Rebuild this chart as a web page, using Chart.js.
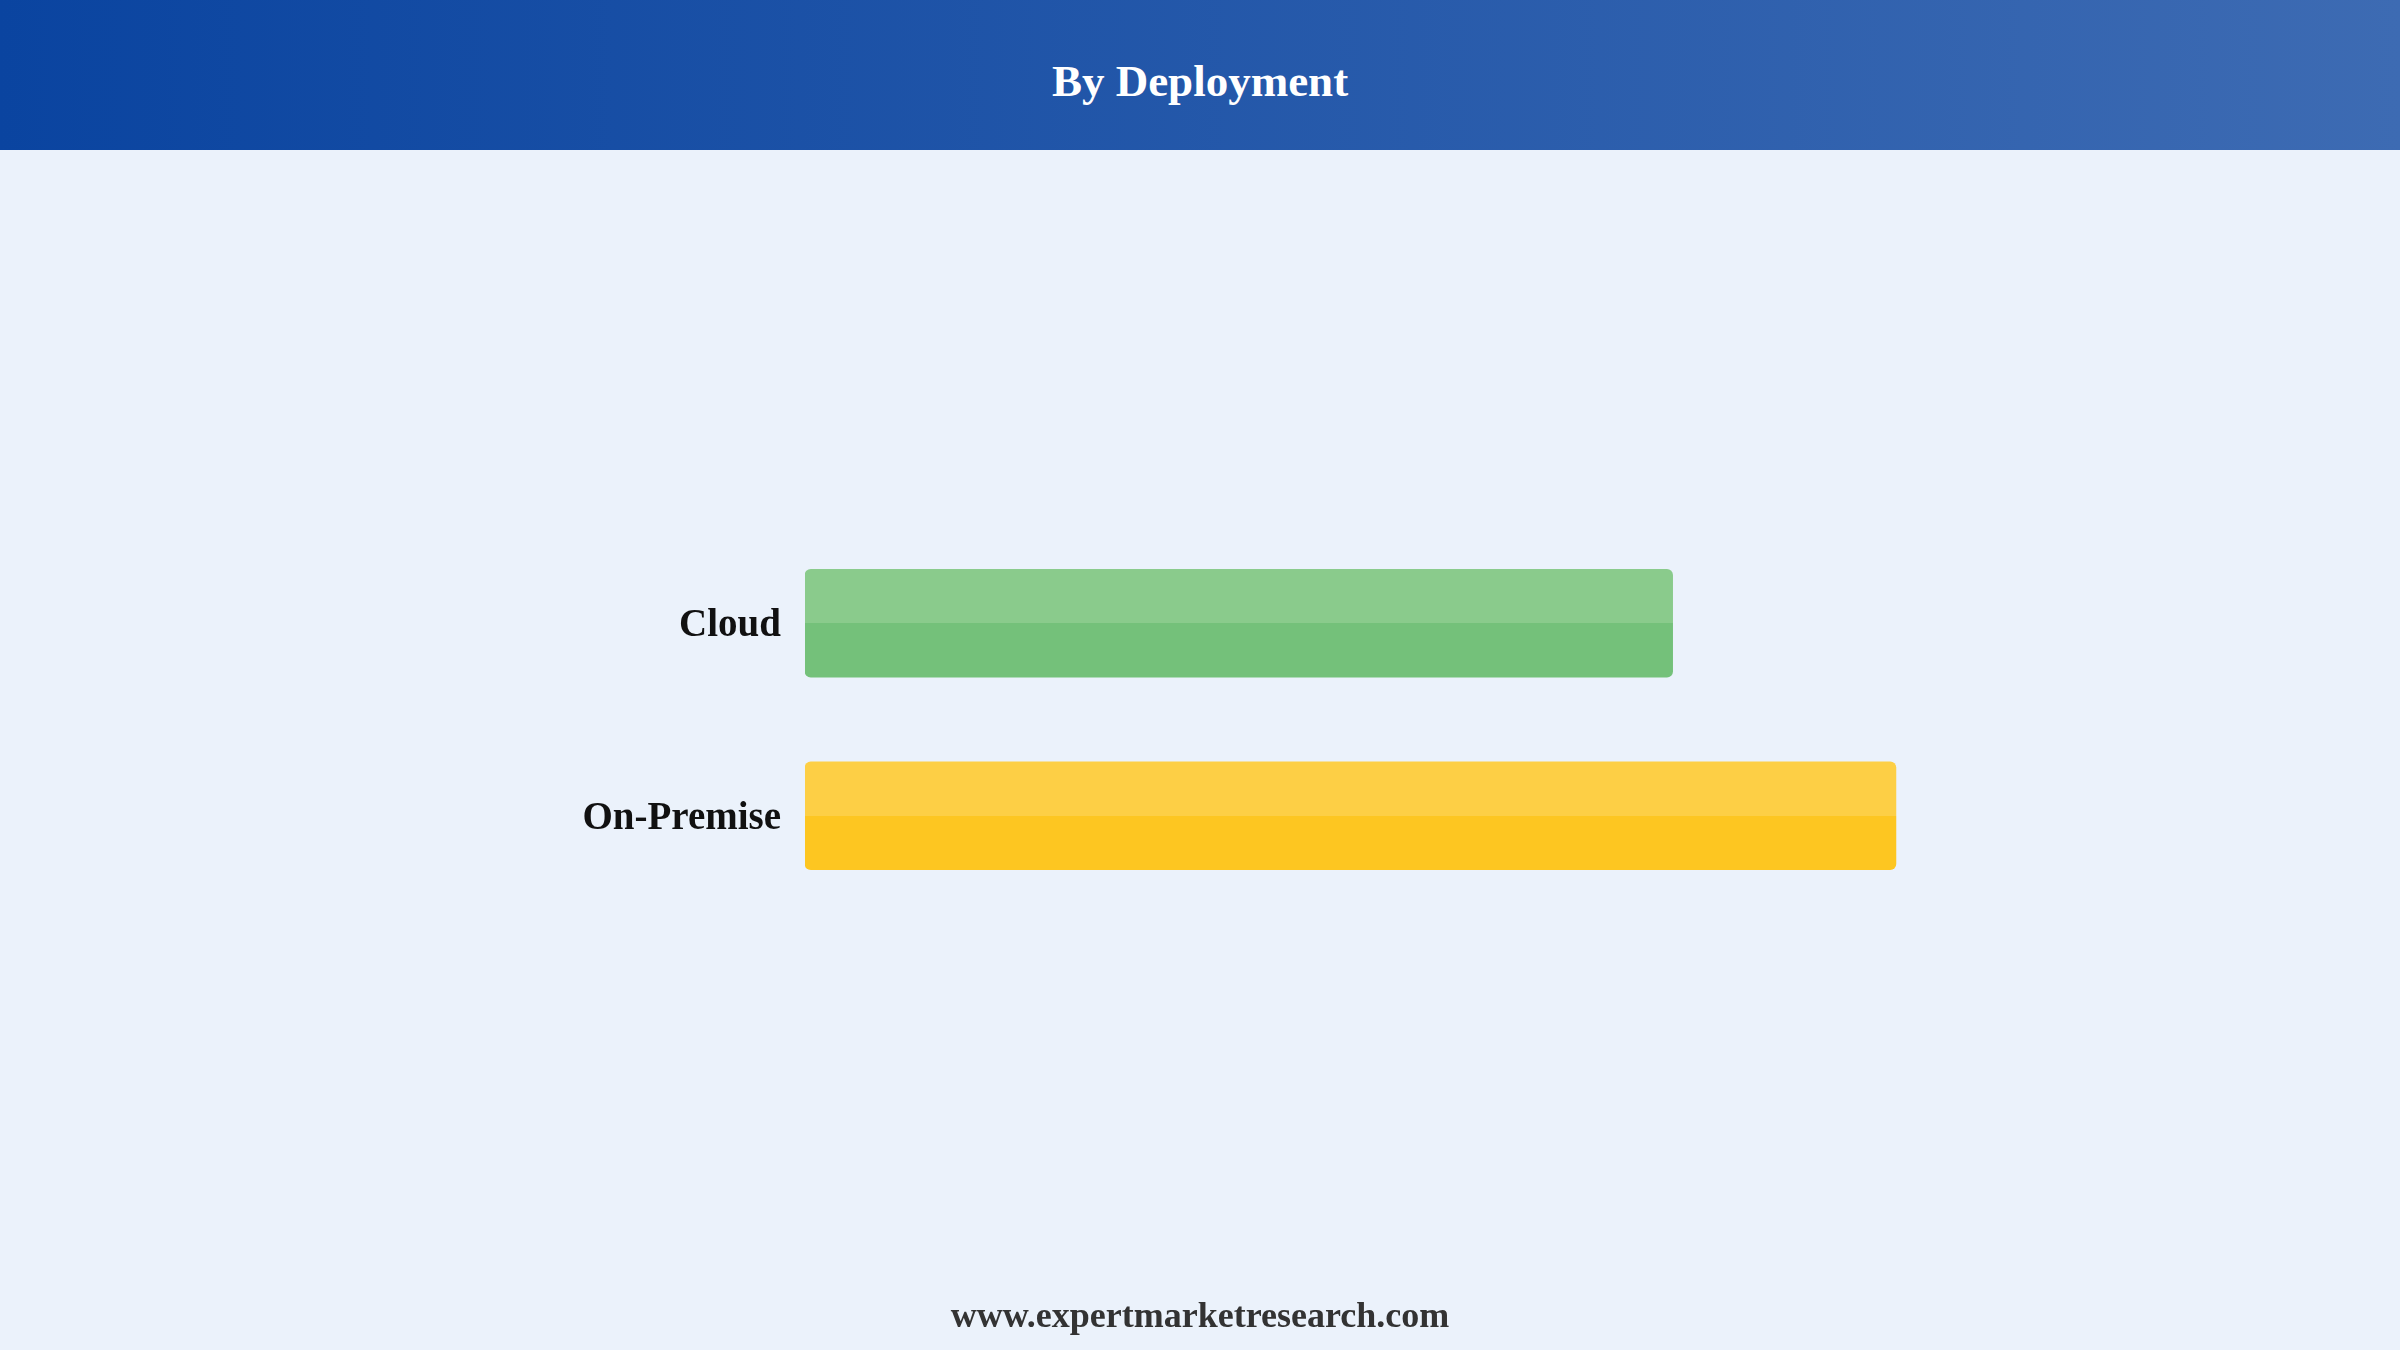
<!DOCTYPE html>
<html>
<head>
<meta charset="utf-8">
<script src="https://cdn.jsdelivr.net/npm/chart.js@4"></script>
<style>
  html, body { margin: 0; padding: 0; }
  body {
    width: 2400px; height: 1350px; overflow: hidden;
    background: #ebf2fb; position: relative;
    font-family: "Liberation Serif", "Times New Roman", serif;
  }
  .header {
    position: absolute; left: 0; top: 0; width: 2400px; height: 150px;
    background: linear-gradient(to right, #0a44a0, #3d6bb3);
    color: #fff; font-weight: bold; font-size: 45px;
    text-align: center; line-height: 163px; z-index: 2;
  }
  .footer {
    position: absolute; left: 0; top: 1294px; width: 2400px;
    text-align: center; font-weight: bold; font-size: 36px; color: #333;
  }
  .chart-box { position: absolute; left: 0; top: 0; width: 2400px; height: 1350px; }
</style>
</head>
<body>
<div class="header">By Deployment</div>
<div class="chart-box"><canvas id="myChart"></canvas></div>
<div class="footer">www.expertmarketresearch.com</div>
<script>
const categories = ["Cloud", "On-Premise"];
const shares = [44.3, 55.7];
const topColors = ["#8acb8c", "#fdcf45"];
const bottomColors = ["#74c17a", "#fdc621"];

const BAR_THICK = 108;

// top half lighter, bottom half darker, hard split in the middle
function splitFill(ctx) {
  const chart = ctx.chart;
  const i = ctx.dataIndex;
  const y = chart.scales && chart.scales.y;
  if (!chart.chartArea || !y) return bottomColors[i];
  const mid = y.getPixelForValue(i);
  const g = chart.ctx.createLinearGradient(0, mid - BAR_THICK / 2, 0, mid + BAR_THICK / 2);
  g.addColorStop(0, topColors[i]);
  g.addColorStop(0.5, topColors[i]);
  g.addColorStop(0.5, bottomColors[i]);
  g.addColorStop(1, bottomColors[i]);
  return g;
}

const data = {
  labels: categories,
  datasets: [
    {
      label: "Share",
      data: shares,
      backgroundColor: splitFill,
      borderWidth: 0,
      borderRadius: 6,
      borderSkipped: false,
      barThickness: BAR_THICK,
    },
  ],
};

const config = {
  type: "bar",
  data,
  options: {
    indexAxis: "y",
    responsive: true,
    maintainAspectRatio: false,
    animation: false,
    layout: {
      padding: { left: 0, right: 224, top: 527, bottom: 438 },
    },
    plugins: {
      legend: { display: false },
      tooltip: { enabled: false },
    },
    scales: {
      x: {
        display: false,
        min: 0,
        max: 70,
      },
      y: {
        grid: { display: false },
        border: { display: false },
        ticks: {
          color: "#111",
          padding: 16,
          labelOffset: 3,
          font: { family: "'Liberation Serif', 'Times New Roman', serif", size: 39, weight: "bold" },
        },
        afterFit: (scale) => { scale.width = 805; },
      },
    },
  },
};

const myChart = new Chart(document.getElementById("myChart"), config);
</script>
</body>
</html>
